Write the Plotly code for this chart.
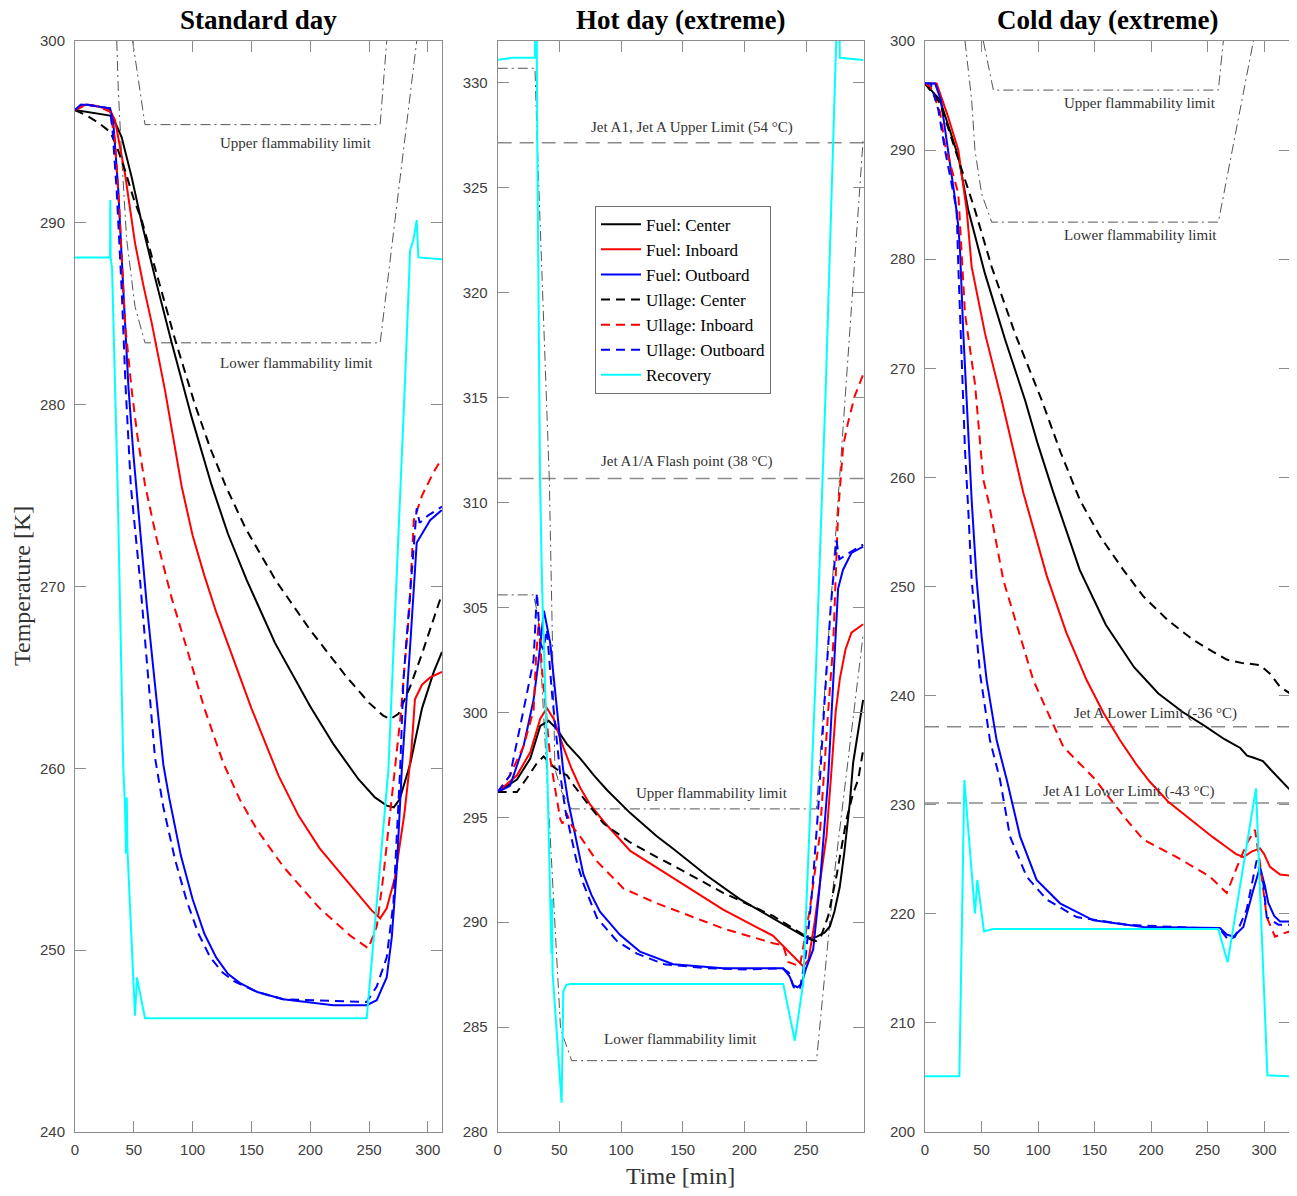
import plotly.graph_objects as go

# ====================== DATA ======================
# ---- Standard day ----
std_fc_t = [0, 10, 20, 29.8, 35, 39.7, 48.2, 56.7, 68, 82.2, 99.2, 116, 130, 146, 170, 200, 220, 241, 255, 265, 271, 276, 285, 295, 305, 312]
std_fc_T = [296.2, 296.1, 296.0, 295.9, 295.4, 294.7, 292.5, 290.0, 287.0, 283.4, 279.3, 275.6, 272.9, 270.35, 266.9, 263.4, 261.3, 259.4, 258.4, 257.95, 257.85, 258.3, 260.25, 263.3, 265.3, 266.4]
std_fi_t = [0, 5, 10, 20, 29.8, 34, 42.5, 51, 58, 65.2, 76.5, 90.7, 100, 110, 120, 132, 150, 173, 190, 208, 225, 242, 252, 259.4, 265, 272, 280, 286, 289, 295, 302, 312]
std_fi_T = [296.2, 296.4, 296.5, 296.4, 296.2, 295.65, 292.7, 288.9, 286.6, 284.5, 280.8, 275.5, 272.8, 270.6, 268.6, 266.5, 263.3, 259.6, 257.4, 255.6, 254.3, 253.0, 252.2, 251.75, 252.3, 254.0, 257.5, 261.0, 263.8, 264.6, 265.0, 265.3]
std_fo_t = [0, 5, 10, 20, 29.8, 32.6, 36.8, 41.1, 45.4, 49.6, 55.3, 61, 68, 75.1, 80, 90, 100, 110, 120, 130, 140, 155, 177, 200, 219.7, 248, 256.5, 265, 269.3, 273.5, 277.8, 284.9, 290.5, 301.9, 311.8]
std_fo_T = [296.2, 296.5, 296.5, 296.4, 296.3, 295.5, 291.8, 286.3, 281.0, 277.3, 273.0, 269.0, 264.6, 260.2, 258.4, 255.2, 252.8, 250.9, 249.6, 248.7, 248.2, 247.7, 247.3, 247.1, 246.97, 246.97, 247.25, 248.5, 250.7, 254.4, 259.9, 266.7, 272.4, 273.65, 274.2]
std_uc_t = [0, 10, 20, 29.8, 35, 42, 50, 56.7, 70.9, 85, 102, 115, 129, 145, 171, 200, 230, 250, 262, 268, 275, 285, 295, 305, 312]
std_uc_T = [296.2, 295.9, 295.5, 295.0, 294.3, 293.0, 291.3, 290.15, 286.85, 283.6, 280.0, 277.6, 275.4, 273.2, 270.3, 267.6, 265.1, 263.6, 262.9, 262.7, 263.0, 264.5, 266.3, 268.2, 269.6]
std_ui_t = [0, 10, 20, 29.8, 34, 38.3, 42.5, 48.2, 53, 59.5, 69.5, 82, 95, 110, 126, 140, 155, 177, 208, 234, 249.4, 256.5, 262, 268, 274, 277, 280, 284, 288, 295, 305, 312]
std_ui_T = [296.2, 296.5, 296.4, 296.1, 294.55, 290.0, 284.5, 280.8, 278.3, 275.6, 272.6, 269.4, 266.6, 263.3, 260.3, 258.3, 256.6, 254.6, 252.3, 250.8, 250.1, 251.3, 254.0, 257.5, 261.0, 263.0, 265.5, 268.5, 273.65, 275.0, 276.3, 277.05]
std_uo_t = [0, 5, 10, 20, 29.8, 32, 35.4, 39.7, 43, 47.5, 55.3, 62.4, 68, 75, 85, 95, 105, 115, 125, 135, 155, 177, 248, 256.5, 265, 270.7, 276.4, 279.2, 287.7, 290.5, 293, 300, 312]
std_uo_T = [296.2, 296.5, 296.5, 296.4, 296.3, 295.0, 291.8, 286.3, 281.0, 275.5, 270.35, 264.85, 260.6, 257.9, 255.0, 252.7, 250.9, 249.6, 248.8, 248.3, 247.7, 247.3, 247.15, 248.0, 249.6, 252.6, 259.9, 264.85, 272.2, 274.3, 273.5, 273.9, 274.4]
std_rec_t = [0, 29.8, 30.0, 30.3, 31.5, 36.3, 41.1, 42.5, 43.4, 44.0, 44.6, 51, 52.7, 59.5, 248, 266.4, 280.6, 284.9, 287.7, 290.5, 291.9, 312]
std_rec_T = [288.1, 288.1, 291.25, 288.1, 287.5, 275.3, 259.9, 258.0, 255.3, 258.4, 255.5, 246.4, 248.5, 246.25, 246.25, 259.9, 281.35, 288.5, 289.05, 290.15, 288.1, 288.0]
std_ufl_t = [49, 55.3, 59.5, 259.4, 265]
std_ufl_T = [300, 297.3, 295.4, 295.4, 300]
std_lfl_t = [35.5, 36.8, 39.7, 43.9, 51, 59.5, 259.4, 290.5]
std_lfl_T = [300, 297.3, 293.6, 289.1, 285.4, 283.4, 283.4, 300]

# ---- Hot day (extreme) ----
hot_fc_t = [0, 15.6, 26.4, 34.5, 41.3, 48, 56, 67, 78, 88.6, 107.5, 129, 142.3, 170, 196.3, 225, 247.7, 253, 258.5, 265, 269.3, 273, 277.4, 281, 285.5, 288.2, 292, 296.3]
hot_fc_T = [296.2, 296.8, 297.8, 299.35, 299.6, 299.2, 298.5, 297.8, 297.0, 296.3, 295.2, 294.1, 293.5, 292.2, 291.1, 290.1, 289.35, 289.25, 289.3, 289.5, 289.8, 290.5, 291.7, 293.3, 295.7, 297.6, 299.0, 300.6]
hot_fi_t = [0, 15.6, 26.4, 34.5, 39.9, 45.3, 53.5, 60, 67, 75, 85.9, 107.5, 129, 142.3, 182.8, 223.3, 234, 241, 247.7, 252, 257, 262, 266.6, 270.7, 274, 277.4, 282, 286.8, 296.3]
hot_fi_T = [296.2, 297.0, 298.1, 299.7, 300.2, 299.7, 298.3, 297.3, 296.4, 295.6, 294.8, 293.4, 292.6, 292.1, 290.6, 289.35, 288.7, 288.3, 287.9, 288.2, 290.0, 292.2, 294.1, 297.3, 300.0, 301.6, 303.0, 303.8, 304.2]
hot_fo_t = [0, 10, 21, 29.1, 33.2, 37.5, 42.6, 48, 53, 57, 61.3, 65, 69.4, 76, 82.9, 99.1, 115.3, 142.3, 182.8, 231.4, 236.8, 239.5, 243, 246.3, 250, 255.8, 261.1, 267.9, 272, 276, 280, 286.8, 296.3]
hot_fo_T = [296.2, 296.5, 298.4, 300.6, 302.5, 304.85, 303.3, 300.1, 297.3, 295.8, 294.6, 293.4, 292.3, 291.3, 290.5, 289.4, 288.6, 288.0, 287.8, 287.8, 287.4, 287.0, 286.9, 287.05, 287.8, 288.7, 291.7, 296.8, 301.5, 305.9, 306.8, 307.6, 307.9]
hot_uc_t = [0, 15.6, 26.4, 32, 37.2, 45.3, 50, 56.2, 62, 69.7, 85.9, 107.5, 129, 142.3, 182.8, 223.3, 245, 253, 258, 262, 268, 275, 282.8, 288, 292.3, 296.3]
hot_uc_T = [296.2, 296.2, 297.1, 297.6, 297.9, 297.4, 297.2, 297.0, 296.5, 295.9, 294.7, 293.8, 293.1, 292.7, 291.4, 290.3, 289.5, 289.2, 289.1, 289.3, 290.3, 292.3, 294.9, 296.1, 296.8, 298.2]
hot_ui_t = [0, 10, 21, 29.1, 31, 33.2, 36, 39.7, 42.6, 46.4, 50.8, 52.5, 55.9, 60, 66.7, 80.5, 102.1, 129, 142.3, 182.8, 223.3, 231.4, 235.5, 245, 253, 261.1, 267.9, 272, 276, 280.1, 284, 289.6, 296.3]
hot_ui_T = [296.2, 297.0, 298.4, 300.1, 302.5, 304.3, 302.0, 299.8, 297.8, 296.4, 294.9, 294.7, 295.2, 294.6, 294.1, 292.9, 291.6, 290.9, 290.6, 289.7, 289.0, 288.9, 288.1, 287.9, 290.6, 294.1, 300.0, 303.2, 309.5, 312.7, 313.8, 315.1, 316.1]
hot_uo_t = [0, 10, 23.7, 29.1, 31.8, 34.5, 37, 39.9, 44, 50.8, 55, 58.9, 64, 69.7, 80.5, 96.7, 112.9, 135, 170, 200, 231, 236, 240, 245, 250, 255, 260, 265, 270, 274.7, 277, 285, 296.3]
hot_uo_T = [296.2, 297.0, 300.9, 302.5, 305.7, 303.3, 303.0, 303.95, 300.9, 297.0, 295.3, 294.2, 292.9, 291.8, 290.2, 289.1, 288.5, 288.0, 287.8, 287.75, 287.8, 287.6, 286.9, 286.8, 288.5, 291.5, 295.5, 300.5, 305.0, 308.2, 307.3, 307.6, 308.0]
hot_rec_t = [0, 12, 30.2, 30.6, 31.5, 32.1, 34.3, 36, 39.1, 42.6, 43.6, 44.0, 44.5, 51.8, 53.2, 55.5, 58.6, 231.5, 240.9, 247.7, 258, 266, 272, 275.5, 276.8, 277.4, 296.3]
hot_rec_T = [331.1, 331.2, 331.2, 334, 334, 327.2, 311.2, 306.0, 300.0, 291.4, 288.5, 291.1, 287.6, 281.4, 286.7, 287.0, 287.05, 287.05, 284.35, 287.1, 302.0, 315.5, 326.5, 334, 334, 331.2, 331.1]
hot_ufl_t = [0, 30.2, 32.1, 38.3, 41.8, 46.4, 52, 60, 258.5, 296.3]
hot_ufl_T = [330.7, 330.7, 327.1, 316.5, 311.2, 297.3, 296.2, 295.4, 295.4, 327.3]
hot_lfl_t = [0, 29.1, 33, 45.1, 51, 60, 258.5, 273.4, 296.5]
hot_lfl_T = [305.6, 305.6, 304.5, 291.1, 284.9, 283.4, 283.4, 292.5, 303.8]
hot_jet_upper_K = 327.15
hot_flash_K = 311.15

# ---- Cold day (extreme) ----
cold_fc_t = [0, 13.3, 29.5, 38.3, 53, 71, 88.5, 100, 113.6, 137, 160, 185, 206.5, 228, 247.8, 265, 279, 285, 291, 299, 306, 314, 323]
cold_fc_T = [296.1, 294.6, 289.4, 284.5, 278.7, 272.6, 267.1, 263.0, 258.6, 251.5, 246.5, 242.6, 240.2, 238.5, 237.2, 236.0, 235.2, 234.5, 234.3, 234.0, 233.2, 232.3, 231.35]
cold_fi_t = [0, 10.3, 20, 29.5, 36.9, 41.3, 53.1, 67.8, 87, 107.7, 125, 143.1, 158, 172.6, 187, 199, 215, 237.5, 255, 267, 275, 281.7, 289, 296.5, 300, 305.3, 314.2, 323]
cold_fi_T = [296.1, 296.1, 293.2, 290.0, 284.5, 279.3, 273.2, 267.1, 258.6, 251.0, 245.8, 241.4, 238.4, 235.9, 233.7, 232.1, 230.3, 228.4, 227.0, 226.1, 225.5, 225.2, 225.7, 226.0, 225.5, 224.3, 223.6, 223.5]
cold_fo_t = [0, 9, 14, 20, 26.5, 29.5, 31, 33.9, 36.9, 41.3, 45.7, 50, 54.6, 63.4, 72.3, 84.1, 98.8, 119.5, 149, 193.2, 261, 267, 272.9, 281.7, 290, 296.5, 300.9, 303.8, 309, 314.2, 323]
cold_fo_T = [296.1, 296.1, 294.6, 290.5, 285.6, 283.0, 280.8, 273.2, 267.1, 257.9, 250.6, 245.5, 241.4, 235.9, 232.3, 227.1, 223.1, 220.96, 219.4, 218.8, 218.7, 218.1, 217.9, 218.8, 222.0, 224.3, 222.5, 221.0, 219.8, 219.3, 219.3]
cold_uc_t = [0, 13.3, 30, 44.2, 59, 79.6, 103.2, 120, 137.2, 154.9, 175, 193.2, 215, 237.5, 255, 267, 280, 290, 296.5, 305.3, 314.2, 323]
cold_uc_T = [296.1, 294.3, 289.0, 284.5, 279.3, 273.2, 267.1, 262.3, 257.9, 254.6, 251.6, 249.1, 246.9, 245.1, 244.0, 243.3, 243.0, 242.9, 242.8, 242.0, 240.8, 240.2]
cold_ui_t = [0, 5, 13.3, 17.7, 29.5, 35.4, 44.2, 51.6, 56, 69.3, 95.9, 122.4, 149, 178.5, 193.2, 222.7, 252.2, 261, 267, 275, 285, 292, 296.5, 302.4, 309.7, 317.1, 323]
cold_ui_T = [296.1, 295.8, 293.5, 290.5, 286.0, 275.0, 268.6, 259.8, 257.9, 250.6, 241.4, 235.3, 232.5, 228.6, 226.8, 225.2, 223.4, 222.5, 221.9, 224.0, 226.5, 227.7, 224.6, 219.7, 217.9, 218.2, 218.4]
cold_uo_t = [0, 5, 11.8, 17.7, 23, 28, 29.5, 32.4, 35.4, 38.3, 41.3, 48.7, 57.5, 66.4, 75.2, 90, 107.7, 134.2, 178.5, 261, 268.4, 274.3, 284.7, 293.5, 299.4, 302.4, 312.7, 323]
cold_uo_T = [296.1, 296.1, 293.7, 290.0, 287.2, 284.5, 279.3, 271.7, 262.5, 257.0, 250.6, 242.0, 235.9, 232.3, 227.1, 223.4, 221.3, 219.7, 219.0, 218.6, 217.6, 217.9, 220.4, 224.9, 222.8, 219.7, 219.0, 219.0]
cold_rec_t = [0, 30.4, 34.8, 44.2, 46.3, 52.2, 60.5, 259.6, 267.8, 292.9, 303, 323]
cold_rec_T = [205.1, 205.1, 232.26, 220.04, 223.1, 218.4, 218.6, 218.6, 215.55, 231.5, 205.2, 205.1]
cold_ufl_t = [51.6, 60.5, 259.6, 264]
cold_ufl_T = [300, 295.5, 295.5, 300]
cold_lfl_t = [35.4, 41.3, 44.2, 50.1, 59, 259.6, 290.6]
cold_lfl_T = [300, 294.6, 290, 286, 283.4, 283.4, 300]
cold_jetA_lower_K = 237.15
cold_jetA1_lower_K = 230.15

# axis settings
x_ranges = [[0, 312], [0, 297], [0, 323]]
y_ranges = [[240, 300], [280, 332], [200, 300]]
x_ticks = [[0, 50, 100, 150, 200, 250, 300], [0, 50, 100, 150, 200, 250], [0, 50, 100, 150, 200, 250, 300]]
y_ticks = [[240, 250, 260, 270, 280, 290, 300],
           [280, 285, 290, 295, 300, 305, 310, 315, 320, 325, 330],
           [200, 210, 220, 230, 240, 250, 260, 270, 280, 290, 300]]
titles = ["Standard day", "Hot day (extreme)", "Cold day (extreme)"]
series_names = ["Fuel: Center", "Fuel: Inboard", "Fuel: Outboard",
                "Ullage: Center", "Ullage: Inboard", "Ullage: Outboard", "Recovery"]

# ====================== FIGURE ======================
# the page body has an 8px margin, so lay the figure out relative to that offset
OFF = 8
W, H = 1297 - OFF, 1196 - OFF


def px(x):
    return (x - OFF) / W


def py(y):
    return 1 - (y - OFF) / H


SERIF = "Liberation Serif, Times New Roman, serif"
SANS = "Liberation Sans, Arial, sans-serif"
colors = ["#000000", "#FF0000", "#0000FF", "#000000", "#FF0000", "#0000FF", "#00FFFF"]
dashes = ["solid", "solid", "solid", "9px,6px", "9px,6px", "9px,6px", "solid"]

panels = [
    [(std_fc_t, std_fc_T), (std_fi_t, std_fi_T), (std_fo_t, std_fo_T),
     (std_uc_t, std_uc_T), (std_ui_t, std_ui_T), (std_uo_t, std_uo_T), (std_rec_t, std_rec_T)],
    [(hot_fc_t, hot_fc_T), (hot_fi_t, hot_fi_T), (hot_fo_t, hot_fo_T),
     (hot_uc_t, hot_uc_T), (hot_ui_t, hot_ui_T), (hot_uo_t, hot_uo_T), (hot_rec_t, hot_rec_T)],
    [(cold_fc_t, cold_fc_T), (cold_fi_t, cold_fi_T), (cold_fo_t, cold_fo_T),
     (cold_uc_t, cold_uc_T), (cold_ui_t, cold_ui_T), (cold_uo_t, cold_uo_T), (cold_rec_t, cold_rec_T)],
]
flam = [
    [(std_ufl_t, std_ufl_T), (std_lfl_t, std_lfl_T)],
    [(hot_ufl_t, hot_ufl_T), (hot_lfl_t, hot_lfl_T)],
    [(cold_ufl_t, cold_ufl_T), (cold_lfl_t, cold_lfl_T)],
]
jet_lines = [[], [hot_jet_upper_K, hot_flash_K], [cold_jetA_lower_K, cold_jetA1_lower_K]]

fig = go.Figure()
for p in range(3):
    xa = "x" if p == 0 else f"x{p+1}"
    ya = "y" if p == 0 else f"y{p+1}"
    for k in jet_lines[p]:
        fig.add_trace(go.Scatter(x=[x_ranges[p][0], x_ranges[p][1]], y=[k, k], mode="lines",
                                 line=dict(color="#8a8a8a", width=1.5, dash="14px,8px"),
                                 showlegend=False, hoverinfo="skip", xaxis=xa, yaxis=ya))
    for (ft, fT) in flam[p]:
        fig.add_trace(go.Scatter(x=ft, y=fT, mode="lines",
                                 line=dict(color="#555555", width=1, dash="10px,4px,2px,4px"),
                                 showlegend=False, hoverinfo="skip", xaxis=xa, yaxis=ya))
    for i, (st, sT) in enumerate(panels[p]):
        fig.add_trace(go.Scatter(x=st, y=sT, mode="lines", name=series_names[i],
                                 line=dict(color=colors[i], width=2, dash=dashes[i]),
                                 showlegend=(p == 1), xaxis=xa, yaxis=ya))

x_dom = [[px(75), px(442)], [px(497.7), px(864)], [px(925), px(1290)]]
y_dom = [py(1132), py(41)]
axcol = "#8c8c8c"
for p in range(3):
    common = dict(ticks="inside", ticklen=11, tickcolor=axcol, tickwidth=1,
                  showline=True, linecolor=axcol, linewidth=1, mirror="ticks",
                  showgrid=False, zeroline=False, automargin=False,
                  tickfont=dict(family=SANS, size=15, color="#404040"))
    xkey = "xaxis" if p == 0 else f"xaxis{p+1}"
    ykey = "yaxis" if p == 0 else f"yaxis{p+1}"
    fig.update_layout(**{
        xkey: dict(domain=x_dom[p], range=x_ranges[p], tickvals=x_ticks[p],
                   anchor="y" if p == 0 else f"y{p+1}", ticklabelstandoff=4, **common),
        ykey: dict(domain=y_dom, range=y_ranges[p], tickvals=y_ticks[p],
                   anchor="x" if p == 0 else f"x{p+1}", ticklabelstandoff=6, **common),
    })

annotations = []
for p in range(3):
    cx = (x_dom[p][0] + x_dom[p][1]) / 2
    annotations.append(dict(x=cx, y=py(20), xref="paper", yref="paper", text=f"<b>{titles[p]}</b>",
                            xanchor="center", yanchor="middle",
                            showarrow=False, font=dict(family=SERIF, size=27, color="#000000")))

label_texts = [
    [("Upper flammability limit", 188, 294.4), ("Lower flammability limit", 188.5, 282.3)],
    [("Jet A1, Jet A Upper Limit (54 °C)", 157.2, 327.87), ("Jet A1/A Flash point (38 °C)", 153.2, 311.97),
     ("Upper flammability limit", 174, 296.18), ("Lower flammability limit", 148.4, 284.43)],
    [("Upper flammability limit", 190.3, 294.3), ("Lower flammability limit", 190.3, 282.2),
     ("Jet A Lower Limit (-36 °C)", 204.2, 238.4), ("Jet A1 Lower Limit (-43 °C)", 180.5, 231.2)],
]
for p in range(3):
    xa = "x" if p == 0 else f"x{p+1}"
    ya = "y" if p == 0 else f"y{p+1}"
    for (txt, lx, ly) in label_texts[p]:
        annotations.append(dict(x=lx, y=ly, xref=xa, yref=ya, text=txt, showarrow=False,
                                xanchor="center", yanchor="middle",
                                font=dict(family=SERIF, size=15, color="#333333")))

annotations.append(dict(x=px(22), y=py(586), xref="paper", yref="paper", text="Temperature [K]",
                        textangle=-90, xanchor="center", yanchor="middle",
                        showarrow=False, font=dict(family=SERIF, size=24, color="#333333")))
annotations.append(dict(x=px(681), y=py(1176), xref="paper", yref="paper", text="Time [min]",
                        xanchor="center", yanchor="middle",
                        showarrow=False, font=dict(family=SERIF, size=24, color="#333333")))

fig.update_layout(
    width=W, height=H, margin=dict(l=0, r=0, t=0, b=0, autoexpand=False),
    plot_bgcolor="white", paper_bgcolor="white",
    annotations=annotations,
    legend=dict(x=px(595), y=py(205.7), xanchor="left", yanchor="top",
                font=dict(family=SERIF, size=17, color="#000000"),
                bgcolor="white", bordercolor="#707070", borderwidth=1,
                tracegroupgap=0, itemwidth=40),
)

fig.write_html("out.html")
